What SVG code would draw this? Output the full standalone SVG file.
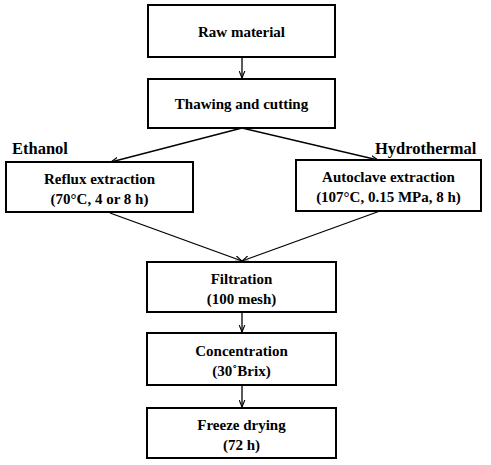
<svg xmlns="http://www.w3.org/2000/svg" width="491" height="465" viewBox="0 0 491 465">
<style>
.box{fill:#fff;stroke:#000;stroke-width:2}
.t{font-family:"Liberation Serif","Times New Roman",serif;font-weight:bold;font-size:15px;text-anchor:middle;fill:#000}
.lbl{font-family:"Liberation Serif","Times New Roman",serif;font-weight:bold;font-size:16.5px;fill:#000}
.c{stroke:#000;stroke-width:1.3;fill:none;marker-end:url(#ah)}
</style>
<defs>
<marker id="ah" viewBox="0 0 10 10" refX="10" refY="5" markerWidth="7" markerHeight="7" markerUnits="userSpaceOnUse" orient="auto">
<path d="M0,1 L10,5 L0,9" fill="none" stroke="#000" stroke-width="1.6"/>
</marker>
</defs>
<rect width="491" height="465" fill="#fff"/>
<g id="connectors">
<line class="c" x1="242" y1="57" x2="242" y2="78"/>
<line class="c" x1="242" y1="128" x2="111" y2="162"/>
<line class="c" x1="242" y1="128" x2="378" y2="160"/>
<line class="c" x1="110" y1="213" x2="242" y2="261"/>
<line class="c" x1="380" y1="211" x2="242" y2="261"/>
<line class="c" x1="242" y1="312" x2="242" y2="332"/>
<line class="c" x1="242" y1="385" x2="242" y2="407"/>
</g>
<g id="raw">
<rect class="box" x="148" y="5" width="187" height="52"/>
<text class="t" x="241.5" y="37">Raw material</text>
</g>
<g id="thaw">
<rect class="box" x="148" y="79" width="187" height="49"/>
<text class="t" x="241.5" y="109">Thawing and cutting</text>
</g>
<g id="ethanol">
<text class="lbl" x="12" y="154">Ethanol</text>
</g>
<g id="hydro">
<text class="lbl" x="375" y="154">Hydrothermal</text>
</g>
<g id="reflux">
<rect class="box" x="6" y="162" width="187" height="50"/>
<text class="t" x="99.5" y="184">Reflux extraction</text>
<text class="t" x="99.5" y="204">(70°C, 4 or 8 h)</text>
</g>
<g id="autoclave">
<rect class="box" x="296" y="160" width="185" height="51"/>
<text class="t" x="388.5" y="182">Autoclave extraction</text>
<text class="t" x="388.5" y="202">(107°C, 0.15 MPa, 8 h)</text>
</g>
<g id="filtration">
<rect class="box" x="147" y="262" width="189" height="50"/>
<text class="t" x="241.5" y="284">Filtration</text>
<text class="t" x="241.5" y="304">(100 mesh)</text>
</g>
<g id="concentration">
<rect class="box" x="147" y="333" width="189" height="52"/>
<text class="t" x="241.5" y="356">Concentration</text>
<text class="t" x="241.5" y="376">(30˚Brix)</text>
</g>
<g id="freeze">
<rect class="box" x="147" y="408" width="189" height="50"/>
<text class="t" x="241.5" y="430">Freeze drying</text>
<text class="t" x="241.5" y="450">(72 h)</text>
</g>
</svg>
